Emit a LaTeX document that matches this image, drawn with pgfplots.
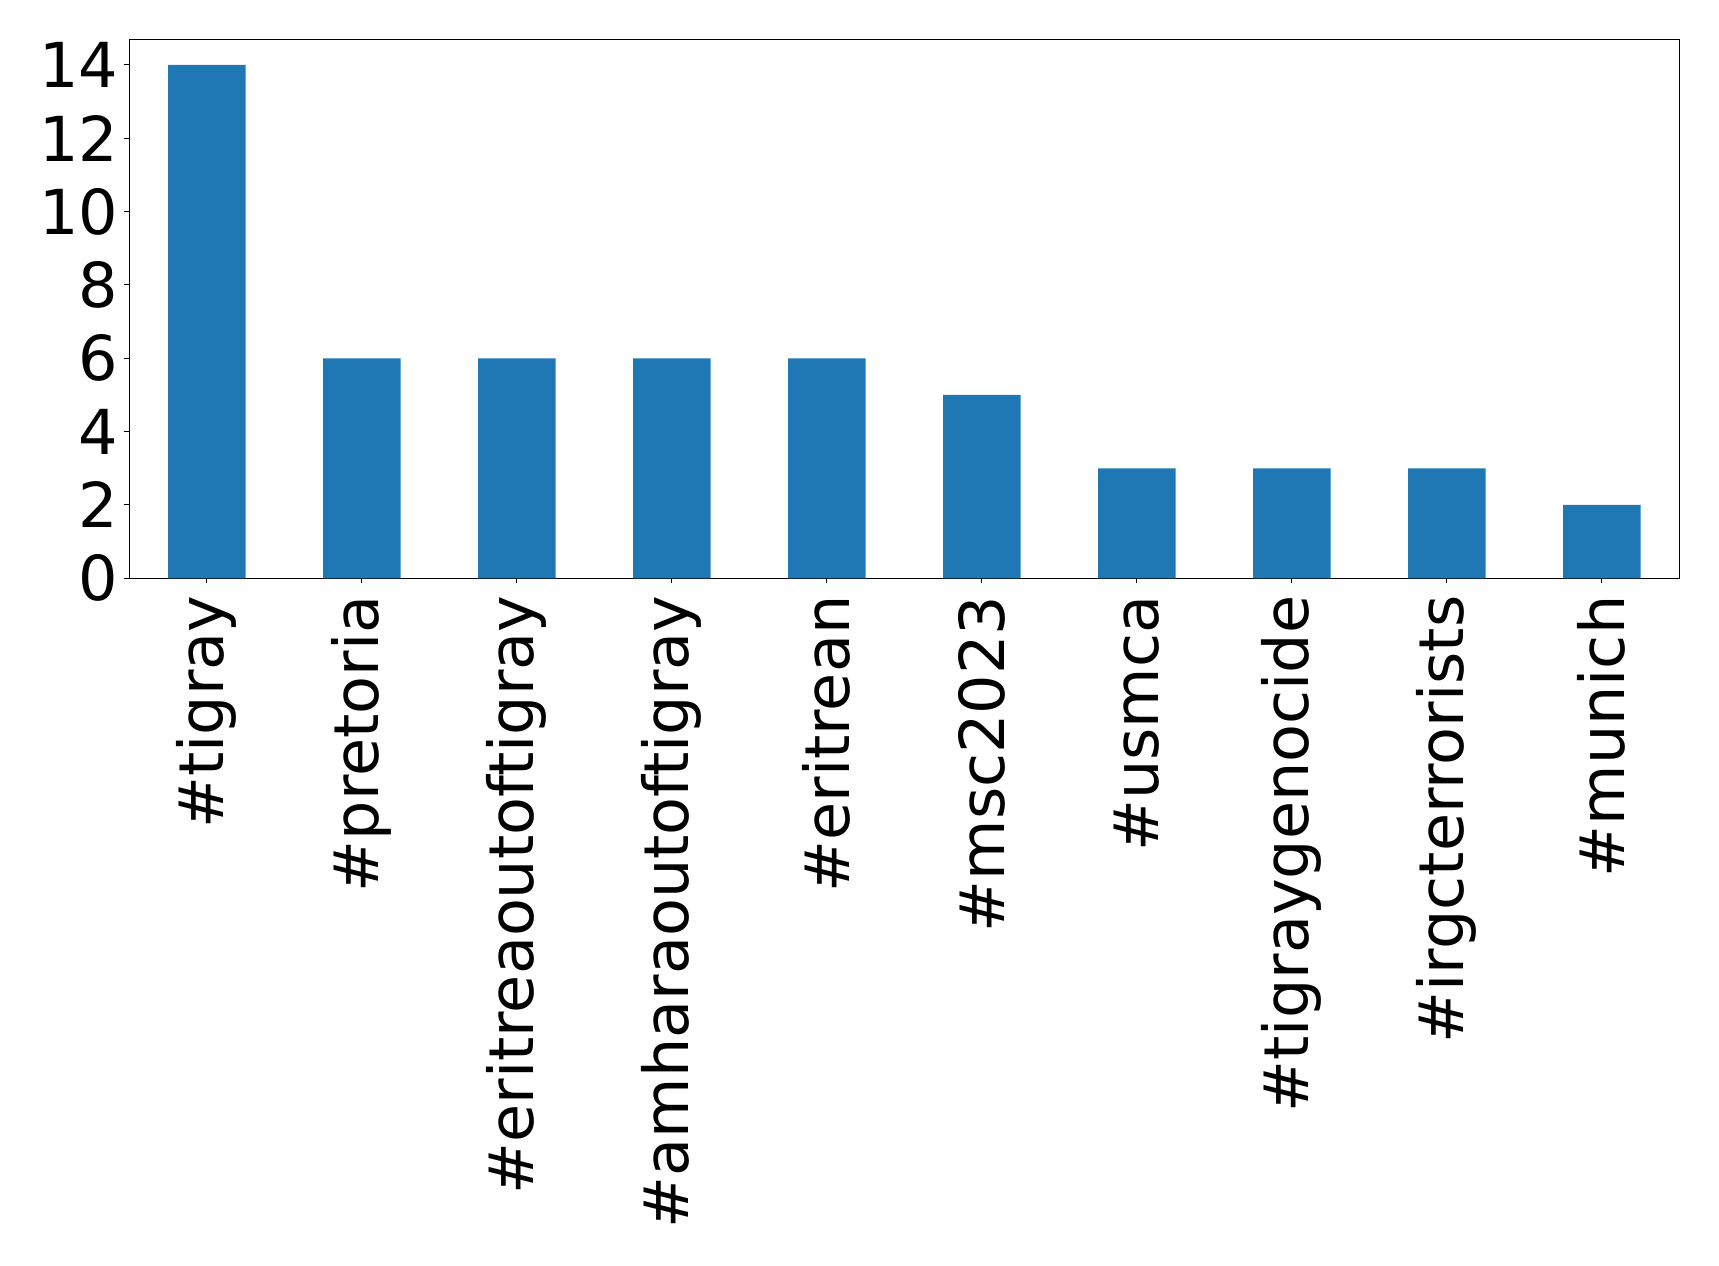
\documentclass[border=0pt]{standalone}
\usepackage{pgfplots}
\pgfplotsset{compat=1.18}
\usepackage{fontspec}
\setmainfont{DejaVu Sans}
\definecolor{mplblue}{HTML}{1F77B4}
\begin{document}
\begin{tikzpicture}
\path[use as bounding box] (0,0) rectangle (859.5pt,632.5pt);
\begin{axis}[
  at={(64.65pt,343.35pt)}, anchor=south west,
  scale only axis, width=775pt, height=269.5pt,
  xmin=-0.5, xmax=9.5, ymin=0, ymax=14.7,
  ybar, bar width=0.5,
  xtick=data,
  xticklabels={\#tigray,\#pretoria,\#eritreaoutoftigray,\#amharaoutoftigray,\#eritrean,\#msc2023,\#usmca,\#tigraygenocide,\#irgcterrorists,\#munich},
  ytick={0,2,4,6,8,10,12,14},
  tick align=outside, xtick pos=bottom, ytick pos=left,
  major tick length=2.5pt,
  tick style={black, line width=0.5pt},
  axis line style={line width=0.6pt},
  /pgf/number format/assume math mode=true,
  tick label style={font=\fontsize{31}{37}\selectfont, inner sep=0pt},
  xticklabel style={rotate=90, anchor=east},
  xticklabel shift=6pt, yticklabel shift=2.9pt,
]
\addplot[fill=mplblue, draw=none] coordinates {(0,14) (1,6) (2,6) (3,6) (4,6) (5,5) (6,3) (7,3) (8,3) (9,2)};
\end{axis}
\end{tikzpicture}
\end{document}
